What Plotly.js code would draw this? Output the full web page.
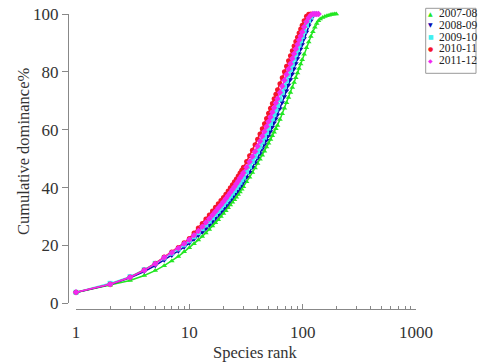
<!DOCTYPE html>
<html>
<head>
<meta charset="utf-8">
<script src="https://cdn.plot.ly/plotly-3.0.1.min.js"></script>
<style>html,body{margin:0;padding:0;background:#fff;}#chart{width:479px;height:364px;}</style>
</head>
<body>
<div id="chart"></div>
<script>
// Species rank positions at which values were read
const ranks = [1,2,3,4,5,6,7,8,9,10,11,12,13,14,15,16,17,18,19,20,21,22,23,24,25,26,27,28,29,30,
  32,34,36,38,40,42,44,46,48,50,52,54,56,58,60,
  63,66,69,72,75,78,81,84,87,90,93,96,99,
  103,108,113,118,123,128,133,138,
  143,150,157,164,171,178,185,192,198];

const seriesNames = ["2007-08","2008-09","2009-10","2010-11","2011-12"];
const seriesColors = ["#22e622","#0a0ab4","#40f0f0","#f5162b","#f028f0"];
const seriesSymbols = ["triangle-up","triangle-down","square","circle","diamond"];
const legendGlyphs = ["\u25B2","\u25BC","\u25A0","\u25CF","\u25C6"];

// Cumulative dominance % per series
const y2007 = [3.7,6.2,7.9,9.6,11.3,13.0,14.6,16.2,17.8,19.2,20.6,21.9,23.1,24.3,25.5,26.7,27.8,28.9,30.0,31.0,32.0,33.0,34.0,34.9,35.8,36.7,37.6,38.5,39.4,40.3,
  42.0,43.6,45.2,46.8,48.3,49.8,51.2,52.6,54.0,55.3,56.6,57.9,59.1,60.3,61.5,
  63.5,65.5,67.4,69.3,71.1,72.9,74.6,76.3,78.0,79.6,81.2,82.7,84.2,
  86.1,88.3,90.3,92.2,93.9,95.4,96.7,97.7,
  98.3,98.8,99.1,99.4,99.6,99.8,99.9,100,100];
const y2008 = [3.7,6.5,8.8,11.0,13.0,14.9,16.5,18.0,19.4,20.8,22.1,23.4,24.6,25.8,27.0,28.2,29.3,30.4,31.5,32.5,33.5,34.5,35.5,36.5,37.4,38.3,39.2,40.1,41.0,41.9,
  43.6,45.3,47.0,48.6,50.2,51.8,53.4,54.9,56.4,57.9,59.4,60.9,62.4,63.8,65.2,
  67.3,69.4,71.5,73.5,75.5,77.4,79.3,81.1,82.9,84.6,86.3,87.9,89.5,
  91.5,93.8,95.9,97.7,99.1,100];
const y2009 = [3.8,6.9,9.2,11.6,13.8,15.7,17.3,18.8,20.2,21.6,23.0,24.4,25.8,27.1,28.4,29.6,30.8,31.9,33.0,34.1,35.1,36.1,37.1,38.1,39.0,40.0,40.9,41.8,42.7,43.6,
  45.4,47.2,49.0,50.7,52.4,54.1,55.8,57.4,59.0,60.6,62.2,63.8,65.4,66.9,68.4,
  70.6,72.8,74.9,76.9,78.9,80.8,82.6,84.4,86.1,87.7,89.3,90.8,92.2,
  94.0,96.0,97.7,99.0,99.8,100];
const y2010 = [3.8,6.6,9.0,11.5,13.8,16.0,17.7,19.3,20.9,22.4,24.3,26.0,27.6,29.1,30.5,31.9,33.2,34.4,35.5,36.6,37.7,38.8,39.9,41.0,42.0,43.0,44.0,45.0,46.0,47.0,
  49.0,51.0,52.9,54.8,56.7,58.5,60.3,62.1,63.9,65.7,67.4,69.1,70.7,72.3,73.8,
  75.9,78.0,80.0,81.9,83.8,85.6,87.3,88.9,90.5,92.0,93.4,94.8,96.1,
  97.7,99.2,99.9,100];
const y2011 = [3.8,6.6,9.0,11.4,13.7,15.8,17.5,19.0,20.6,22.0,23.5,25.0,26.5,27.9,29.2,30.5,31.7,32.9,34.0,35.1,36.2,37.3,38.3,39.3,40.3,41.3,42.3,43.3,44.2,45.1,
  47.0,48.9,50.7,52.5,54.3,56.0,57.7,59.4,61.1,62.8,64.4,66.0,67.6,69.2,70.7,
  72.9,75.0,77.1,79.1,81.0,82.8,84.6,86.3,87.9,89.5,91.0,92.4,93.8,
  95.5,97.3,98.7,99.6,100,100,100,100];

const seriesValues = [y2007,y2008,y2009,y2010,y2011];

const yTicks = [0,20,40,60,80,100];
const xTicks = [1,10,100,1000];
const xTickText = ["1","10","100","1000"];
const xMinor = [2,3,4,5,6,7,8,9,20,30,40,50,60,70,80,90,200,300,400,500,600,700,800,900];

const W = 479, H = 364;
const mL = 68, mR = 63, mT = 14, mB = 55;
const pw = W - mL - mR, ph = H - mT - mB;
const px = v => (v - mL) / pw;
const py = v => (H - mB - v) / ph;

const traces = seriesValues.map((vals, i) => ({
  type: "scatter",
  mode: "lines+markers",
  name: seriesNames[i],
  x: ranks.slice(0, vals.length),
  y: vals,
  line: {color: seriesColors[i], width: 1.5},
  marker: {color: seriesColors[i], size: 5, symbol: seriesSymbols[i]},
  cliponaxis: false,
  showlegend: false
}));

const serif = "Liberation Serif, Times New Roman, serif";
const annotations = [
  {text: "Cumulative dominance%", xref: "paper", yref: "paper", x: px(23), y: py(151),
   xanchor: "center", yanchor: "middle",
   textangle: -90, showarrow: false, font: {family: serif, size: 16.5, color: "#333"}},
  {text: "Species rank", xref: "paper", yref: "paper", x: px(255), y: py(352),
   xanchor: "center", yanchor: "middle",
   showarrow: false, font: {family: serif, size: 16.5, color: "#333"}}
];
const rowY = [13.3, 25.0, 36.6, 48.4, 60.4];
seriesNames.forEach((n, i) => {
  annotations.push({text: legendGlyphs[i], xref: "paper", yref: "paper", x: px(430.5), y: py(rowY[i]),
    xanchor: "center", yanchor: "middle",
    showarrow: false, font: {family: "DejaVu Sans", size: 6, color: seriesColors[i]}});
  annotations.push({text: n, xref: "paper", yref: "paper", x: px(436.5), y: py(rowY[i]),
    xanchor: "left", yanchor: "middle",
    showarrow: false, font: {family: serif, size: 11.5, color: "#222"}});
});

const layout = {
  width: W, height: H,
  margin: {l: mL, r: mR, t: mT, b: mB, pad: 0},
  paper_bgcolor: "#fff", plot_bgcolor: "#fff",
  showlegend: false,
  xaxis: {
    type: "log", range: [0, 3], domain: [px(76), 1], anchor: "free", position: 0,
    showline: true, linecolor: "#888", linewidth: 1,
    ticks: "inside", ticklen: 5, tickcolor: "#888",
    tickvals: xTicks, ticktext: xTickText, ticklabelstandoff: 8,
    minor: {ticks: "inside", ticklen: 3, tickcolor: "#888", tickvals: xMinor, showgrid: false},
    showgrid: false, zeroline: false,
    tickfont: {family: serif, size: 17, color: "#333"}
  },
  yaxis: {
    range: [0, 100], domain: [py(303.3), 1], anchor: "free", position: 0,
    showline: true, linecolor: "#888", linewidth: 1,
    ticks: "outside", ticklen: 6, tickcolor: "#888",
    tickvals: yTicks, showgrid: false, zeroline: false,
    tickfont: {family: serif, size: 17, color: "#333"}
  },
  shapes: [{type: "rect", xref: "paper", yref: "paper", x0: px(425.7), x1: px(476), y0: py(73.3), y1: py(8.3),
    line: {color: "#999", width: 1}, fillcolor: "rgba(0,0,0,0)"}],
  annotations: annotations
};

Plotly.newPlot("chart", traces, layout, {displayModeBar: false, staticPlot: true});
</script>
</body>
</html>
